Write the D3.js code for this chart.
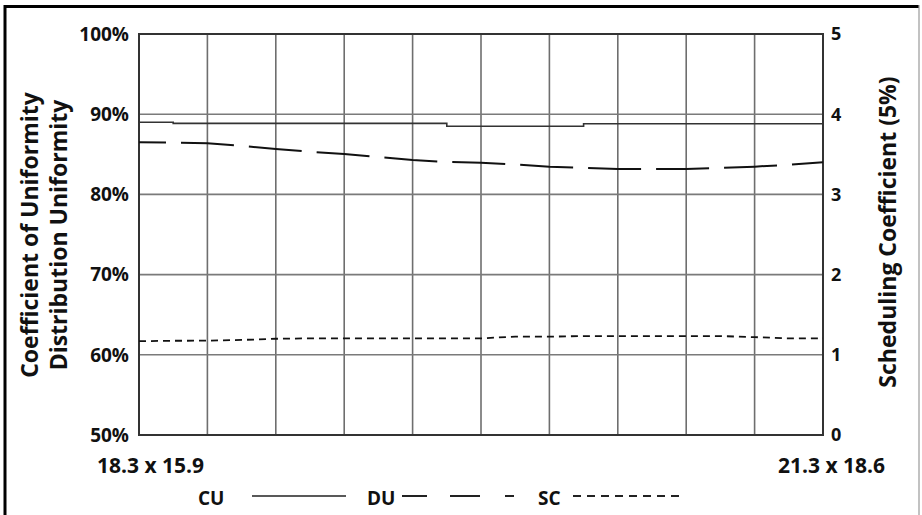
<!DOCTYPE html>
<html>
<head>
<meta charset="utf-8">
<script src="https://cdn.jsdelivr.net/npm/d3@7"></script>
<style>
  html, body { margin: 0; padding: 0; background: #fff; }
  svg { display: block; font-family: "Open Sans", "DejaVu Sans", sans-serif; font-weight: 700; }
</style>
</head>
<body>
<svg id="chart" width="922" height="515"></svg>
<script>
// ---- data ----
const xSteps = [0,0.5,1,1.5,2,2.5,3,3.5,4,4.5,5,5.5,6,6.5,7,7.5,8,8.5,9,9.5,10];
const cuValues = [89.0,88.85,88.85,88.85,88.85,88.85,88.85,88.85,88.85,88.5,88.5,88.5,88.5,88.8,88.8,88.8,88.8,88.8,88.8,88.8,88.8];
const duValues = [86.5,86.45,86.37,86.05,85.66,85.32,85.04,84.65,84.29,84.05,83.95,83.72,83.46,83.3,83.17,83.17,83.17,83.3,83.46,83.7,84.0];
const scValues = [1.17,1.175,1.176,1.185,1.2,1.205,1.205,1.205,1.205,1.205,1.205,1.226,1.226,1.234,1.234,1.234,1.234,1.234,1.22,1.205,1.205];
const leftTicks = [50,60,70,80,90,100];
const leftTickLabels = ["50%","60%","70%","80%","90%","100%"];
const rightTicks = [0,1,2,3,4,5];
const xEndLabels = ["18.3 x 15.9","21.3 x 18.6"];
const gridX = [0,1,2,3,4,5,6,7,8,9,10];
const leftTitle = ["Coefficient of Uniformity","Distribution Uniformity"];
const rightTitle = "Scheduling Coefficient (5%)";
const legendNames = ["CU","DU","SC"];

// ---- layout ----
const svg = d3.select("#chart");
const L = 139, R = 823, T = 34, B = 435;
const x = d3.scaleLinear().domain([0,10]).range([L,R]);
const yL = d3.scaleLinear().domain([50,100]).range([B,T]);
const yR = d3.scaleLinear().domain([0,5]).range([B,T]);

// page frame
svg.append("line").attr("x1",5).attr("x2",5).attr("y1",5).attr("y2",515).attr("stroke","#000").attr("stroke-width",3);
svg.append("line").attr("x1",4).attr("x2",919).attr("y1",6.5).attr("y2",6.5).attr("stroke","#000").attr("stroke-width",3);
svg.append("line").attr("x1",919).attr("x2",919).attr("y1",5).attr("y2",515).attr("stroke","#999").attr("stroke-width",1.2);

// gridlines
const g = svg.append("g");
g.selectAll(".vg").data(gridX.slice(1,-1)).join("line")
  .attr("x1",d=>x(d)).attr("x2",d=>x(d)).attr("y1",T).attr("y2",B)
  .attr("stroke","#6e6e6e").attr("stroke-width",1.6);
g.selectAll(".hg").data(leftTicks.slice(1,-1)).join("line")
  .attr("x1",L).attr("x2",R).attr("y1",d=>yL(d)).attr("y2",d=>yL(d))
  .attr("stroke","#7a7a7a").attr("stroke-width",1.6);
// plot frame
g.append("rect").attr("x",L).attr("y",T).attr("width",R-L).attr("height",B-T)
  .attr("fill","none").attr("stroke","#333").attr("stroke-width",2);

// axes labels
svg.append("g").selectAll("text").data(leftTicks).join("text")
  .attr("x",129).attr("y",d=>yL(d)).attr("dy","0.36em")
  .attr("text-anchor","end").attr("font-size",19).attr("fill","#111")
  .text((d,i)=>leftTickLabels[i]);
svg.append("g").selectAll("text").data(rightTicks).join("text")
  .attr("x",831).attr("y",d=>yR(d)).attr("dy","0.36em")
  .attr("text-anchor","start").attr("font-size",18).attr("fill","#111")
  .text(d=>d);
svg.append("text").attr("x",x(0)-42).attr("y",473).attr("font-size",21).attr("fill","#111").text(xEndLabels[0]);
svg.append("text").attr("x",x(10)+62).attr("y",473).attr("text-anchor","end").attr("font-size",21).attr("fill","#111").text(xEndLabels[1]);

// titles
[28.5, 58].forEach((cx,i)=>{
  svg.append("text").attr("transform",`translate(${cx},235) rotate(-90)`)
    .attr("text-anchor","middle").attr("dominant-baseline","central")
    .attr("font-size",23).attr("fill","#111").text(leftTitle[i]);
});
svg.append("text").attr("transform",`translate(887,232) rotate(-90)`)
  .attr("text-anchor","middle").attr("dominant-baseline","central")
  .attr("font-size",23).attr("fill","#111").text(rightTitle);

// lines
const cuLine = d3.line().x((d,i)=>x(xSteps[i])).y(d=>yL(d)).curve(d3.curveStepAfter);
const duLine = d3.line().x((d,i)=>x(xSteps[i])).y(d=>yL(d));
const scLine = d3.line().x((d,i)=>x(xSteps[i])).y(d=>yR(d));
svg.append("path").datum(cuValues).attr("d",cuLine).attr("fill","none").attr("stroke","#333").attr("stroke-width",1.6);
svg.append("path").datum(duValues).attr("d",duLine).attr("fill","none").attr("stroke","#111").attr("stroke-width",2)
  .attr("stroke-dasharray","53,15").attr("stroke-dashoffset",26);
svg.append("path").datum(scValues).attr("d",scLine).attr("fill","none").attr("stroke","#111").attr("stroke-width",1.8)
  .attr("stroke-dasharray","7,5");

// legend
const lg = svg.append("g").attr("font-size",19).attr("fill","#111");
lg.append("text").attr("x",198).attr("y",505).text(legendNames[0]);
lg.append("line").attr("x1",252).attr("x2",346).attr("y1",496).attr("y2",496).attr("stroke","#222").attr("stroke-width",1.6);
lg.append("text").attr("x",367).attr("y",505).text(legendNames[1]);
lg.append("line").attr("x1",402).attr("x2",514).attr("y1",496).attr("y2",496).attr("stroke","#222").attr("stroke-width",1.8)
  .attr("stroke-dasharray","25,23,30,25,9,100");
lg.append("text").attr("x",538).attr("y",505).text(legendNames[2]);
lg.append("line").attr("x1",573).attr("x2",681).attr("y1",496).attr("y2",496).attr("stroke","#222").attr("stroke-width",1.8)
  .attr("stroke-dasharray","8,6");
</script>
</body>
</html>
